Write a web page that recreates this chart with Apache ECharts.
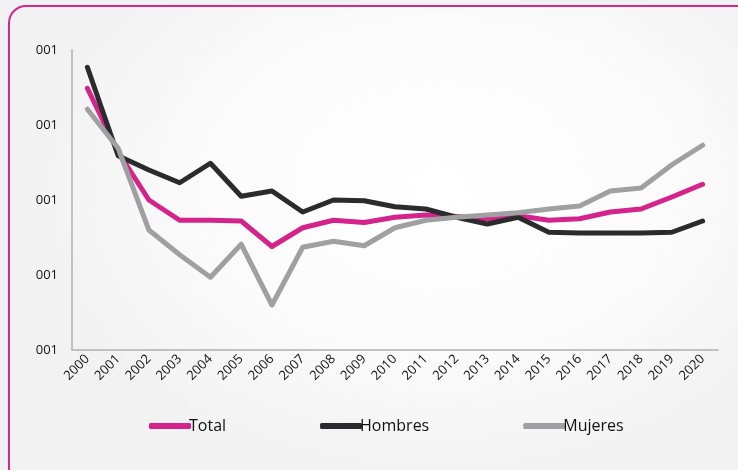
<!DOCTYPE html>
<html lang="es">
<head>
    <meta charset="UTF-8">
    <title>Total, Hombres, Mujeres</title>
    <script src="https://cdn.jsdelivr.net/npm/echarts@6/dist/echarts.min.js"></script>
    <style>
        html, body { margin: 0; padding: 0; background: #f2f2f2; overflow: hidden; }
        #frame {
            position: absolute; left: 8px; top: 5px; width: 780px; height: 500px;
            border: 2px solid #d4288c; border-radius: 18px;
            background: radial-gradient(ellipse 420px 300px at 430px 180px, #ffffff 0%, #fbfbfb 55%, #f2f2f2 100%);
        }
        #chart1 { position: absolute; left: 0; top: 0; width: 738px; height: 470px; }
    </style>
</head>
<body>
    <div id="frame"></div>
    <div id="chart1"></div>
<script type="text/javascript">
    // años
    var years = ['2000','2001','2002','2003','2004','2005','2006','2007','2008','2009','2010',
                 '2011','2012','2013','2014','2015','2016','2017','2018','2019','2020'];
    // etiquetas del eje y (tal como aparecen)
    var yLabels = ['001','001','001','001','001'];

    var total   = [3.49, 2.64, 2.00, 1.73, 1.73, 1.72, 1.38, 1.63, 1.73, 1.70, 1.77,
                   1.80, 1.78, 1.75, 1.79, 1.73, 1.75, 1.84, 1.88, 2.04, 2.21];
    var hombres = [3.77, 2.59, 2.40, 2.23, 2.49, 2.05, 2.12, 1.84, 2.00, 1.99, 1.91,
                   1.88, 1.77, 1.68, 1.77, 1.57, 1.56, 1.56, 1.56, 1.57, 1.72];
    var mujeres = [3.21, 2.69, 1.60, 1.27, 0.97, 1.41, 0.60, 1.37, 1.45, 1.39, 1.63,
                   1.73, 1.77, 1.80, 1.83, 1.88, 1.92, 2.12, 2.16, 2.47, 2.73];

    var chart = echarts.init(document.getElementById('chart1'));

    function serie(name, data, color) {
        return {
            name: name,
            type: 'line',
            data: data,
            symbol: 'none',
            lineStyle: { width: 5, color: color, cap: 'round', join: 'round' },
            itemStyle: { color: color }
        };
    }

    var option = {
        backgroundColor: 'transparent',
        animation: false,
        textStyle: { fontFamily: 'Open Sans' },
        grid: { left: 72, top: 50, right: 20, bottom: 120 },
        legend: {
            bottom: 31,
            left: 144,
            itemWidth: 42,
            itemHeight: 6,
            itemGap: 94,
            icon: 'roundRect',
            textStyle: { fontSize: 16, color: '#111', padding: [0, 0, 0, -7] },
            data: ['Total', 'Hombres', 'Mujeres']
        },
        xAxis: {
            type: 'category',
            data: years,
            boundaryGap: true,
            axisLine: { lineStyle: { color: '#b0b0b0', width: 1.5 } },
            axisTick: { show: false },
            axisLabel: { rotate: 45, fontSize: 13, color: '#111', margin: 7, interval: 0 }
        },
        yAxis: {
            type: 'value',
            min: 0,
            max: 4,
            interval: 1,
            splitLine: { show: false },
            axisLine: { show: true, lineStyle: { color: '#b0b0b0', width: 1.5 } },
            axisTick: { show: false },
            axisLabel: {
                fontSize: 13, color: '#111', margin: 14,
                formatter: function (v) { return yLabels[Math.round(v)]; }
            }
        },
        series: [
            serie('Total', total, '#d4238a'),
            serie('Hombres', hombres, '#2b2b2d'),
            serie('Mujeres', mujeres, '#a0a0a2')
        ]
    };
    chart.setOption(option);
</script>
</body>
</html>
